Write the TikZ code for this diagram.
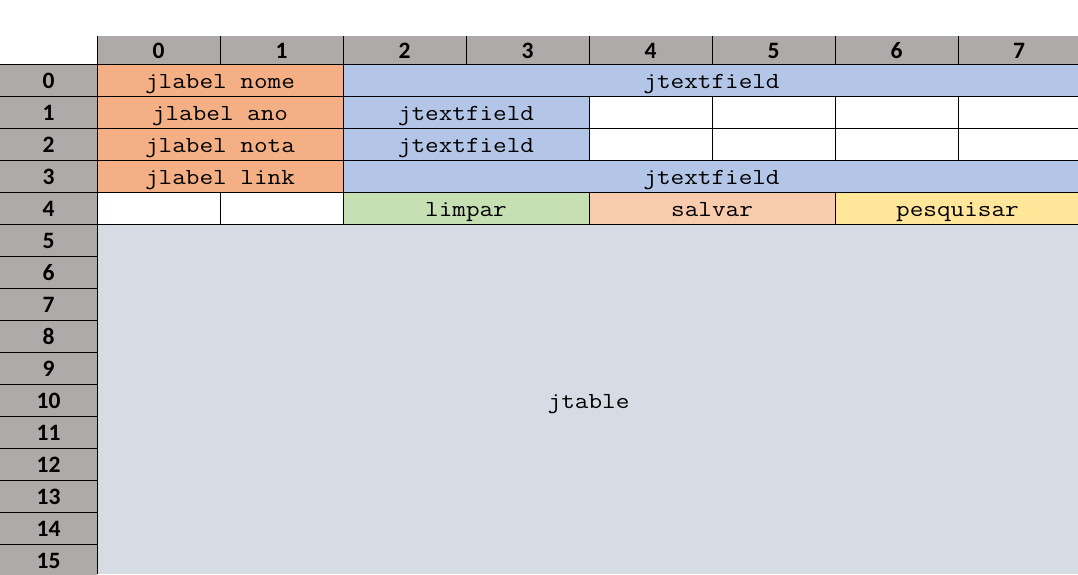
\documentclass[tikz,border=0pt]{standalone}
\usepackage{fontspec}
\newfontfamily\hdrfont{Carlito}
\newfontfamily\cellfont{Latin Modern Mono}[FakeStretch=1.15]
\definecolor{hdrgray}{HTML}{AEAAAA}
\definecolor{lblorange}{HTML}{F4B084}
\definecolor{fieldblue}{HTML}{B4C6E7}
\definecolor{btngreen}{HTML}{C6E0B4}
\definecolor{btnpeach}{HTML}{F8CBAD}
\definecolor{btnyellow}{HTML}{FFE699}
\definecolor{tablegray}{HTML}{D6DCE4}
\begin{document}
\begin{tikzpicture}[x=1pt,y=-1pt,
  base/.style={inner sep=0pt, outer sep=0pt, text height=18pt, text depth=2pt, anchor=center},
  hdr/.style={base, fill=hdrgray, font=\hdrfont\bfseries\fontsize{23.5}{23.5}\selectfont},
  rowhdr/.style={hdr, minimum width=97pt, minimum height=32pt},
  colhdr/.style={hdr, minimum height=28pt, text height=19pt, text depth=2pt},
  cellbox/.style={base, minimum height=32pt, font=\cellfont\fontsize{23}{23}\selectfont},
  gridline/.style={line width=1pt, black}]
\clip (0,0) rectangle (1078,574);
\fill[white] (0,0) rectangle (1078,574);
% column headers
\foreach \c/\x/\w in {0/158.5/123,1/281.5/123,2/404.5/123,3/527.5/123,4/650.5/123,5/773.5/123,6/896.5/123,7/1019/122}
  \node[colhdr, minimum width=\w pt] (c\c) at (\x,50) {\c};
% row headers
\foreach \r in {0,...,15}
  \node[rowhdr] (r\r) at (48.5,{80+32*\r}) {\r};
% row 0
\node[cellbox, fill=lblorange, minimum width=246pt] (lnome) at (220,80) {jlabel nome};
\node[cellbox, fill=fieldblue, minimum width=737pt] (tfnome) at (711.5,80) {jtextfield};
% row 1
\node[cellbox, fill=lblorange, minimum width=246pt] (lano) at (220,112) {jlabel ano};
\node[cellbox, fill=fieldblue, minimum width=246pt] (tfano) at (466,112) {jtextfield};
% row 2
\node[cellbox, fill=lblorange, minimum width=246pt] (lnota) at (220,144) {jlabel nota};
\node[cellbox, fill=fieldblue, minimum width=246pt] (tfnota) at (466,144) {jtextfield};
% row 3
\node[cellbox, fill=lblorange, minimum width=246pt] (llink) at (220,176) {jlabel link};
\node[cellbox, fill=fieldblue, minimum width=737pt] (tflink) at (711.5,176) {jtextfield};
% row 4
\node[cellbox, fill=btngreen, minimum width=246pt] (blimpar) at (466,208) {limpar};
\node[cellbox, fill=btnpeach, minimum width=246pt] (bsalvar) at (712,208) {salvar};
\node[cellbox, fill=btnyellow, minimum width=245pt] (bpesq) at (957.5,208) {pesquisar};
% table
\node[cellbox, fill=tablegray, minimum width=983pt, minimum height=350pt, text height=20pt] (jtab) at (588.5,399) {jtable};
% grid lines
\foreach \y in {64,96,128,160,192,224}
  \draw[gridline] (0,\y) -- (1078,\y);
\foreach \y in {256,288,...,544}
  \draw[gridline] (0,\y) -- (97,\y);
\draw[gridline] (97,36) -- (97,574);
\foreach \x in {220,466,712,958}
  \draw[gridline] (\x,36) -- (\x,64);
\draw[gridline] (343,36) -- (343,224);
\draw[gridline] (589,36) -- (589,64) (589,96) -- (589,160) (589,192) -- (589,224);
\draw[gridline] (835,36) -- (835,64) (835,96) -- (835,160) (835,192) -- (835,224);
\draw[gridline] (712,96) -- (712,160);
\draw[gridline] (958,96) -- (958,160);
\draw[gridline] (220,192) -- (220,224);
\end{tikzpicture}
\end{document}
